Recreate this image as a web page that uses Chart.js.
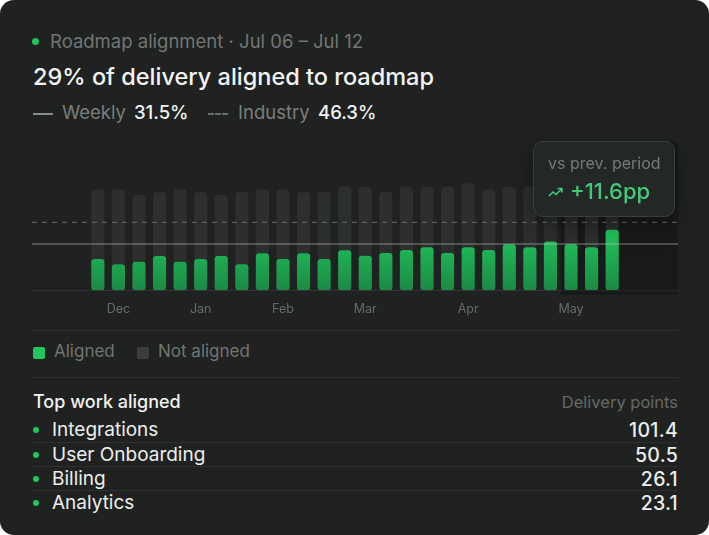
<!DOCTYPE html>
<html>
<head>
<meta charset="utf-8">
<script src="https://cdn.jsdelivr.net/npm/chart.js@4.4.1/dist/chart.umd.min.js"></script>
<style>
  html, body { margin: 0; padding: 0; background: #ffffff; }
  body { width: 709px; height: 535px; overflow: hidden; font-family: Inter, "Noto Sans", sans-serif; }
  .card { position: relative; width: 709px; height: 535px; background: #1f2220; border-radius: 14px; overflow: hidden; }
  .abs { position: absolute; white-space: nowrap; }
  .dot { position: absolute; width: 7px; height: 7px; border-radius: 50%; background: #22c55e; }
  .sub { left: 50px; top: 30px; font-size: 18.5px; color: #727673; }
  .title { left: 33px; top: 62px; font-size: 23.5px; font-weight: 500; color: #f3f4f3; }
  .kpi { top: 101px; font-size: 18.5px; }
  .grey { color: #7a7e7b; }
  .val { color: #f1f2f1; font-weight: 500; }
  .sep { position: absolute; left: 32px; width: 646px; height: 1px; background: #2d302e; }
  #chartBox { position: absolute; left: 0; top: 130px; width: 709px; height: 200px; }
  .tip { position: absolute; left: 533px; top: 141px; width: 142px; height: 76px; box-sizing: border-box;
         border: 1px solid #3a3e3b; border-radius: 10px; background: #232725;
         box-shadow: 0 8px 22px rgba(0,0,0,0.35); }
  .tip .t1 { position: absolute; left: 14px; top: 11px; font-size: 16px; color: #767a77; }
  .tip .t2 { position: absolute; left: 36px; top: 36px; font-size: 22px; color: #45c977; font-weight: 500; }
  .tip svg { position: absolute; left: 14px; top: 44px; }
  .legend { top: 341px; font-size: 17px; color: #727673; }
  .sq { position: absolute; width: 12px; height: 12px; border-radius: 2px; }
  .row { position: absolute; left: 32px; width: 646px; height: 24px; font-size: 19px; color: #eceeed; }
  .row .name { position: absolute; left: 20px; top: 0px; }
  .row .num { position: absolute; right: 0; top: 0px; font-size: 19.5px; letter-spacing: 0.3px; font-weight: 500; }
  .row .dot { left: 1px; top: 9px; width: 6px; height: 6px; }
</style>
</head>
<body>
<div class="card">
  <div class="dot" style="left:32px; top:38px;"></div>
  <div class="abs sub">Roadmap alignment · Jul 06 – Jul 12</div>
  <div class="abs title">29% of delivery aligned to roadmap</div>

  <div style="position:absolute; left:33px; top:113px; width:20px; height:2px; background:#8a8e8b;"></div>
  <div class="abs kpi grey" style="left:62px;">Weekly</div>
  <div class="abs kpi val" style="left:134px;" id="weeklyVal"></div>
  <div style="position:absolute; left:208px; top:113px; width:20px; height:0; border-top:2px dashed #6c706d;"></div>
  <div class="abs kpi grey" style="left:238px;">Industry</div>
  <div class="abs kpi val" style="left:318px;" id="industryVal"></div>

  <div id="chartBox"><canvas id="alignChart"></canvas></div>

  <div class="tip">
    <div class="t1">vs prev. period</div>
    <svg width="15" height="12" viewBox="0 0 15 12"><polyline points="1,10 5,6 8,8.5 13.5,3" fill="none" stroke="#45c977" stroke-width="1.6"/><polyline points="9.5,2.5 13.8,2.5 13.8,6.5" fill="none" stroke="#45c977" stroke-width="1.6"/></svg>
    <div class="t2">+11.6pp</div>
  </div>

  <div class="sep" style="top:330px;"></div>
  <div class="sq" style="left:33px; top:347px; background:#22c55e;"></div>
  <div class="abs legend" style="left:54px;">Aligned</div>
  <div class="sq" style="left:137px; top:347px; background:#3a3d3b;"></div>
  <div class="abs legend" style="left:158px;">Not aligned</div>
  <div class="sep" style="top:377px;"></div>

  <div class="abs" style="left:33px; top:391px; font-size:18px; font-weight:500; color:#f1f2f1;">Top work aligned</div>
  <div class="abs" style="right:31px; top:392px; font-size:16.5px; color:#656966;">Delivery points</div>
  <div id="rows"></div>
</div>

<script>
// weekly share of delivery points, Dec -> May
const aligned = [21.2, 17.6, 19.4, 23.3, 19.4, 21.2, 23.3, 17.6, 25.1, 21.2, 25.1, 21.2, 27.2,
                 23.5, 25.3, 27.4, 29.2, 25.3, 29.2, 27.4, 31.3, 29.2, 33.3, 31.3, 29.2, 41.3]
const notAligned = [47.8, 51.4, 45.7, 43.8, 49.6, 45.9, 41.8, 49.5, 43.9, 47.8, 42.0, 45.9, 43.6,
                    47.3, 41.8, 43.4, 41.6, 45.5, 43.9, 41.6, 39.5, 41.6, 36.7, 39.7, 39.8, 30.7]
const monthTicks = [1, 5, 9, 13, 18, 23]
const monthLabels = ["Dec", "Jan", "Feb", "Mar", "Apr", "May"]
const weekly = 31.5
const industry = 46.3
const highlightFrom = 22.5

const workNames = ["Integrations", "User Onboarding", "Billing", "Analytics"]
const workPoints = [101.4, 50.5, 26.1, 23.1]

document.getElementById("weeklyVal").textContent = weekly + "%"
document.getElementById("industryVal").textContent = industry + "%"

// table rows
const rowsEl = document.getElementById("rows")
workNames.forEach((name, i) => {
  const r = document.createElement("div")
  r.className = "row"
  r.style.top = (418 + i * 24) + "px"
  if (i > 0) r.style.borderTop = "1px solid #2d302e"
  r.innerHTML = '<div class="dot"></div><div class="name"></div><div class="num"></div>'
  r.querySelector(".name").textContent = name
  r.querySelector(".num").textContent = workPoints[i].toFixed(1)
  rowsEl.appendChild(r)
})

Chart.defaults.font.family = "Inter"

const refLines = {
  id: "refLines",
  beforeDatasetsDraw(chart) {
    const { ctx, chartArea, scales } = chart
    const x0 = scales.x.getPixelForValue(highlightFrom)
    ctx.save()
    ctx.fillStyle = "rgba(0,0,0,0.22)"
    ctx.fillRect(x0, chartArea.top - 2, chartArea.right - x0, chartArea.bottom - chartArea.top + 7)
    ctx.restore()
  },
  afterDatasetsDraw(chart) {
    const { ctx, chartArea, scales } = chart
    ctx.save()
    ctx.lineWidth = 1.2
    // industry benchmark
    let y = scales.y.getPixelForValue(industry)
    ctx.strokeStyle = "#5b5f5c"
    ctx.setLineDash([5, 5])
    ctx.beginPath(); ctx.moveTo(chartArea.left, y); ctx.lineTo(chartArea.right, y); ctx.stroke()
    // weekly avg
    y = scales.y.getPixelForValue(weekly)
    ctx.setLineDash([])
    ctx.strokeStyle = "rgba(200,204,201,0.6)"
    ctx.beginPath(); ctx.moveTo(chartArea.left, y); ctx.lineTo(chartArea.right, y); ctx.stroke()
    ctx.restore()
  }
}

function greenFill(context) {
  const chart = context.chart
  const { ctx, chartArea, scales } = chart
  if (!chartArea) return "#22c55e"
  const g = ctx.createLinearGradient(0, scales.y.getPixelForValue(40), 0, chartArea.bottom)
  g.addColorStop(0, "#22c55e")
  g.addColorStop(1, "#1b8a45")
  return g
}

const myChartRef = document.getElementById("alignChart").getContext("2d")
new Chart(myChartRef, {
  type: "bar",
  data: {
    datasets: [
      {
        label: "Aligned",
        data: aligned.map((v, i) => ({ x: i, y: v })),
        backgroundColor: greenFill,
        borderRadius: { topLeft: 3, topRight: 3, bottomLeft: 2, bottomRight: 2 },
        borderSkipped: false
      },
      {
        label: "Not aligned",
        data: notAligned.map((v, i) => ({ x: i, y: v })),
        backgroundColor: "#2c2f2d",
        borderRadius: 4
      }
    ]
  },
  options: {
    responsive: true,
    maintainAspectRatio: false,
    animation: false,
    categoryPercentage: 1,
    barPercentage: 0.64,
    layout: { padding: { left: 32, right: 31, top: 14, bottom: 9 } },
    plugins: { legend: { display: false }, tooltip: { enabled: false } },
    scales: {
      x: {
        type: "linear",
        stacked: true,
        offset: false,
        min: -3.2,
        max: 28.2,
        grid: { display: false },
        border: { display: true, color: "#323533", width: 1 },
        afterBuildTicks: (scale) => { scale.ticks = monthTicks.map(v => ({ value: v })) },
        ticks: {
          padding: 4,
          color: "#676b68",
          font: { size: 12.5 },
          maxRotation: 0,
          autoSkip: false,
          callback: (value) => monthLabels[monthTicks.indexOf(value)]
        }
      },
      y: {
        stacked: true,
        display: false,
        min: 0,
        max: 100
      }
    }
  },
  plugins: [refLines]
})
</script>
</body>
</html>
